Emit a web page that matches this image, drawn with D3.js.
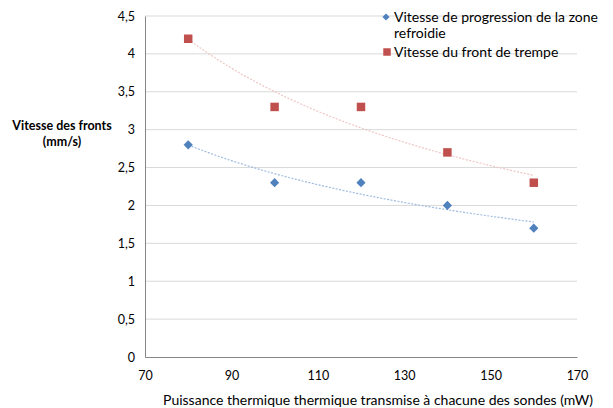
<!DOCTYPE html>
<html>
<head>
<meta charset="utf-8">
<script src="https://cdn.jsdelivr.net/npm/d3@7"></script>
<style>
  html, body { margin: 0; padding: 0; background: #fff; }
  svg text { font-family: Lato, "Open Sans", sans-serif; fill: #000; }
</style>
</head>
<body>
<svg id="chart" width="613" height="408"></svg>
<script>
// Puissance thermique (mW)
const puissance = [80, 100, 120, 140, 160];
// Vitesse de progression de la zone refroidie (mm/s)
const vitesseZone = [2.8, 2.3, 2.3, 2.0, 1.7];
// Vitesse du front de trempe (mm/s)
const vitesseFront = [4.2, 3.3, 3.3, 2.7, 2.3];
const xTicks = [70, 90, 110, 130, 150, 170];
const yTicks = [0, 0.5, 1, 1.5, 2, 2.5, 3, 3.5, 4, 4.5];

const svg = d3.select("#chart");
const x = d3.scaleLinear().domain([70, 170]).range([145, 577]);
const y = d3.scaleLinear().domain([0, 4.5]).range([357, 16]);
const fmt = v => String(v).replace(".", ",");

// square-proportioned diamond marker
const diamond = r => `M0,${-r}L${r},0L0,${r}L${-r},0Z`;

// horizontal gridlines
svg.append("g").selectAll("line").data(yTicks.filter(d => d > 0)).join("line")
  .attr("x1", x(70)).attr("x2", x(170))
  .attr("y1", d => y(d)).attr("y2", d => y(d))
  .attr("stroke", "#d9d9d9").attr("stroke-width", 1);

// axes
const yAxis = svg.append("g").attr("transform", `translate(${x(70)},0)`)
  .call(d3.axisLeft(y).tickValues(yTicks).tickFormat(fmt).tickSize(0).tickPadding(10));
const xAxis = svg.append("g").attr("transform", `translate(0,${y(0)})`)
  .call(d3.axisBottom(x).tickValues(xTicks).tickFormat(fmt).tickSize(0).tickPadding(14));
[yAxis, xAxis].forEach(g => {
  g.select(".domain").attr("stroke", "#868686");
  g.selectAll("text").attr("font-size", 12.5).attr("font-family", "Lato, sans-serif");
});

// power-law trendline (least squares on ln x, ln y)
function powerFit(xs, ys) {
  const lx = xs.map(Math.log), ly = ys.map(Math.log);
  const mx = d3.mean(lx), my = d3.mean(ly);
  const b = d3.sum(lx.map((v, i) => (v - mx) * (ly[i] - my))) / d3.sum(lx.map(v => (v - mx) ** 2));
  const a = Math.exp(my - b * mx);
  return t => a * Math.pow(t, b);
}

const series = [
  { name: "Vitesse de progression de la zone", name2: "refroidie", values: vitesseZone, color: "#4f81bd", trend: "#9dbbe0", kind: "diamond" },
  { name: "Vitesse du front de trempe", values: vitesseFront, color: "#c0504d", trend: "#efc6c5", kind: "square" }
];

const line = d3.line().x(d => x(d[0])).y(d => y(d[1]));
series.forEach(s => {
  const f = powerFit(puissance, s.values);
  const pts = d3.range(80, 160.01, 1).map(t => [t, f(t)]);
  svg.append("path").attr("d", line(pts))
    .attr("fill", "none").attr("stroke", s.trend).attr("stroke-width", 1.2)
    .attr("stroke-dasharray", "2,1.5");
});

series.forEach(s => {
  svg.append("g").selectAll("path").data(puissance).join("path")
    .attr("transform", (d, i) => `translate(${x(d)},${y(s.values[i])})`)
    .attr("d", s.kind === "square" ? d3.symbol().type(d3.symbolSquare).size(72)() : diamond(4.6))
    .attr("fill", s.color);
});

// legend
const lg = svg.append("g");
lg.append("path").attr("transform", "translate(386,17)")
  .attr("d", diamond(3.6)).attr("fill", series[0].color);
lg.append("text").attr("x", 394).attr("y", 22).attr("font-size", 14).text(series[0].name);
lg.append("text").attr("x", 394).attr("y", 38).attr("font-size", 14).text(series[0].name2);
lg.append("path").attr("transform", "translate(387,52)")
  .attr("d", d3.symbol().type(d3.symbolSquare).size(56)).attr("fill", series[1].color);
lg.append("text").attr("x", 394).attr("y", 57).attr("font-size", 14).text(series[1].name);

// axis titles
svg.append("text").attr("x", 62).attr("y", 130).attr("text-anchor", "middle")
  .attr("font-size", 12.5).attr("font-weight", "bold").text("Vitesse des fronts");
svg.append("text").attr("x", 62).attr("y", 146).attr("text-anchor", "middle")
  .attr("font-size", 12.5).attr("font-weight", "bold").text("(mm/s)");
svg.append("text").attr("x", 378).attr("y", 405).attr("text-anchor", "middle")
  .attr("font-size", 14).text("Puissance thermique thermique transmise à chacune des sondes (mW)");
</script>
</body>
</html>
